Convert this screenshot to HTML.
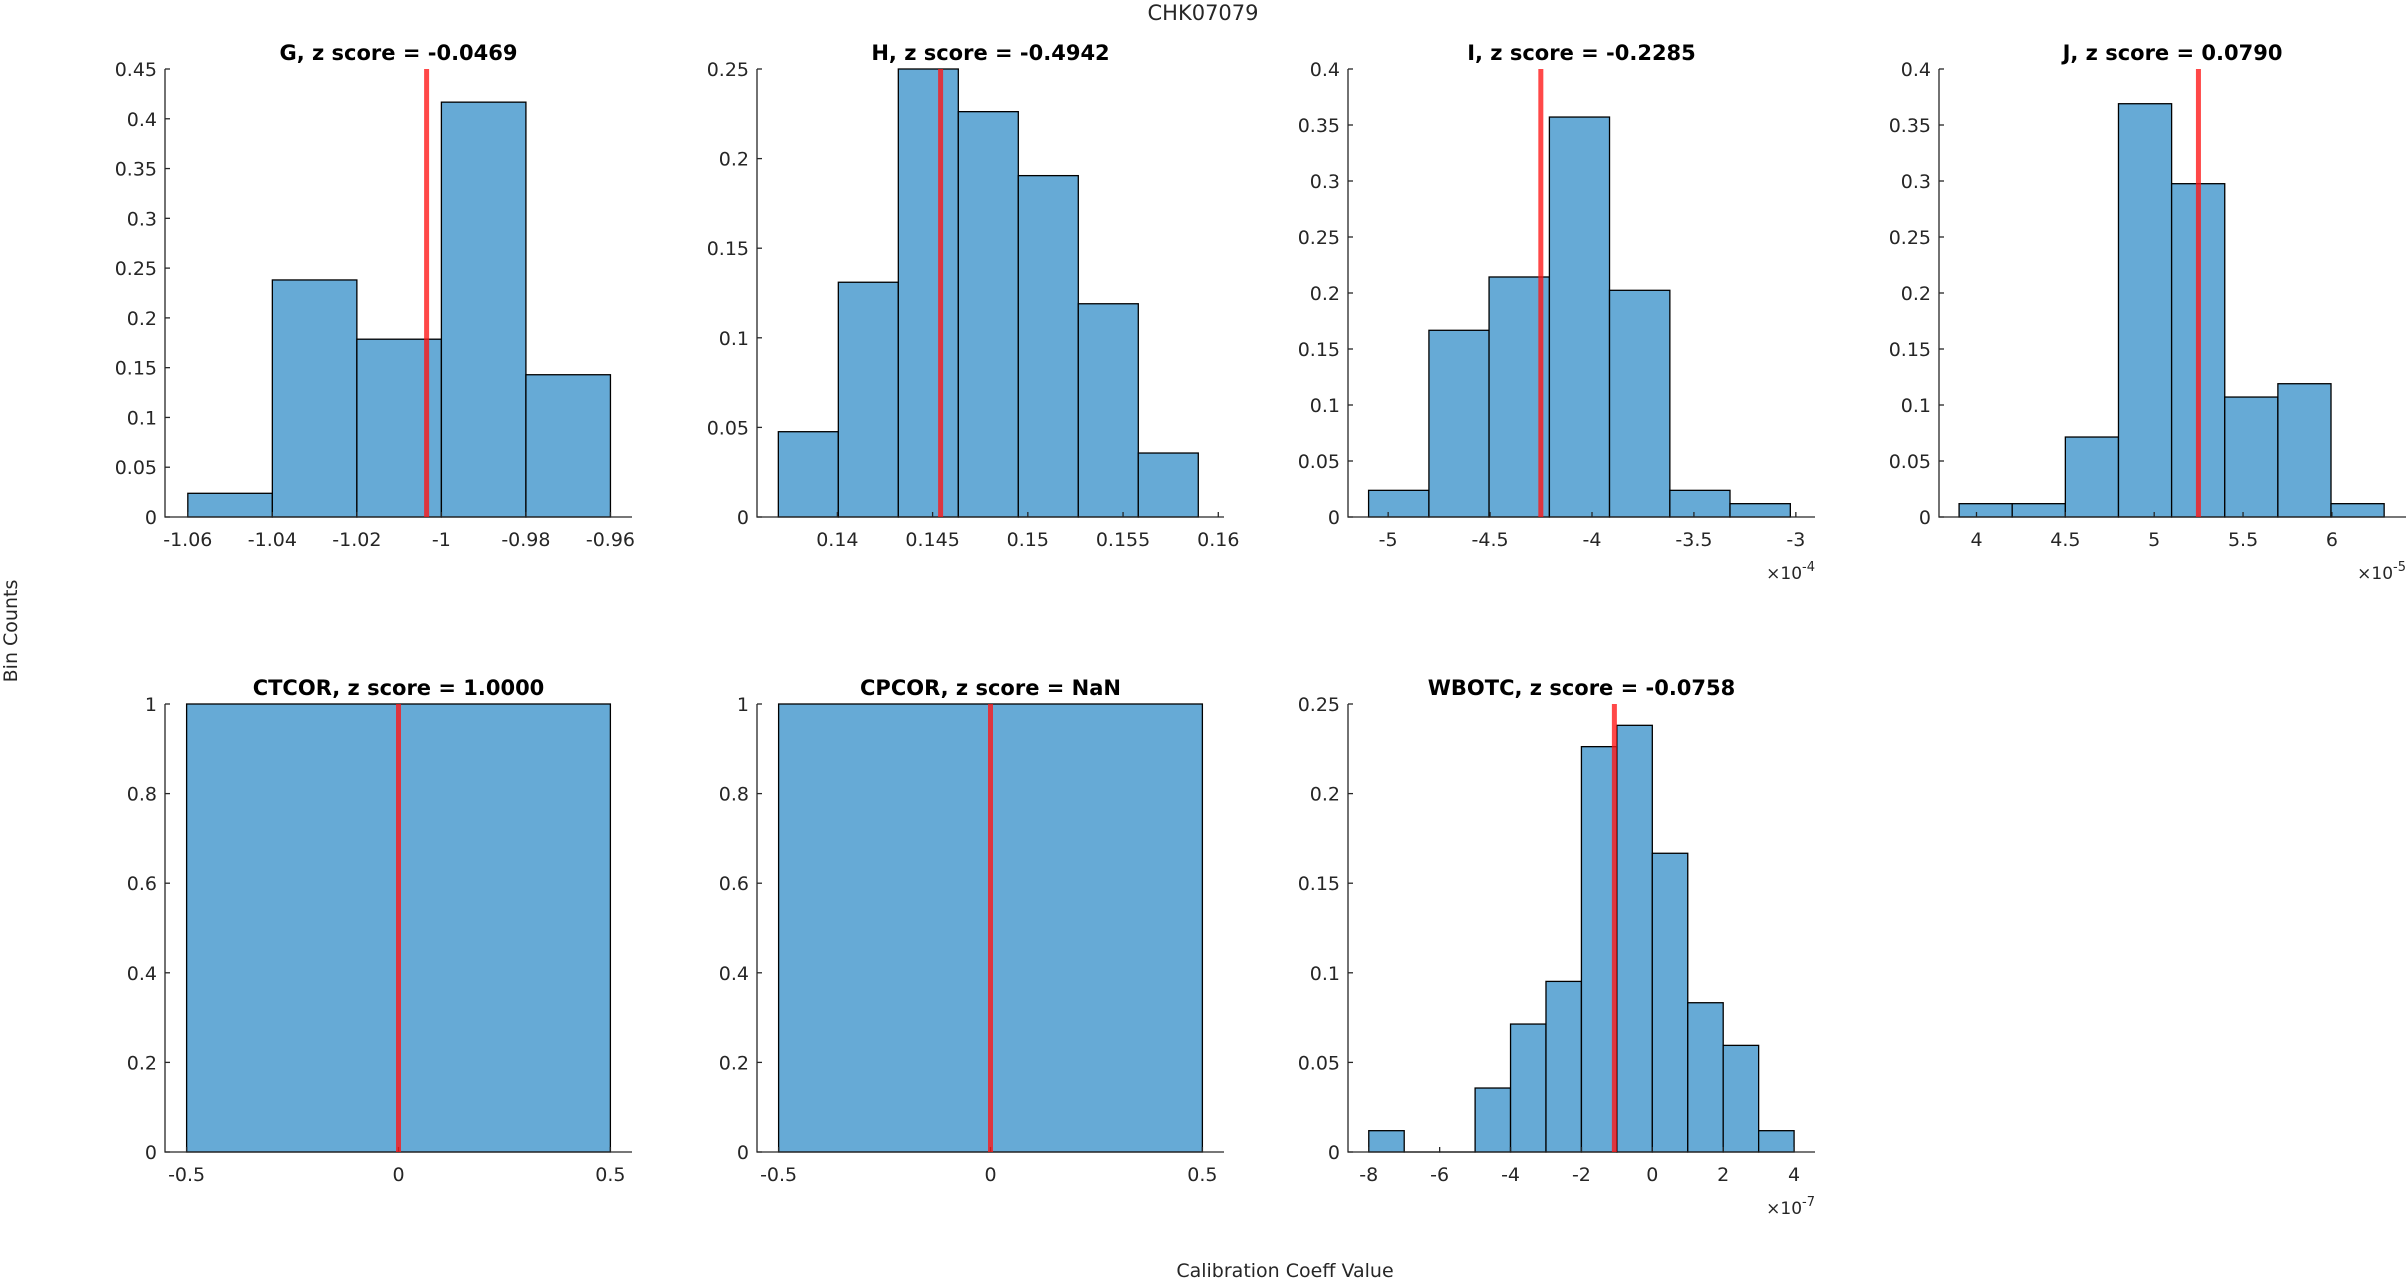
<!DOCTYPE html>
<html><head><meta charset="utf-8"><style>
html,body{margin:0;padding:0;background:#fff;}
svg{display:block;font-family:"DejaVu Sans","Liberation Sans",sans-serif;}
</style></head><body>
<svg id="fig" width="2407" height="1281" viewBox="0 0 2407 1281" xmlns="http://www.w3.org/2000/svg">
<rect width="2407" height="1281" fill="#fff"/>
<text x="1203" y="20" font-size="21" text-anchor="middle" fill="#262626">CHK07079</text>
<text transform="translate(17,631) rotate(-90)" font-size="19" text-anchor="middle" fill="#262626">Bin Counts</text>
<text x="1285" y="1277" font-size="19" text-anchor="middle" fill="#262626">Calibration Coeff Value</text>
</svg>
<script>
// ---- data ----
const gEdges = [-1.06, -1.04, -1.02, -1.00, -0.98, -0.96];
const gValues = [0.0238, 0.2381, 0.1786, 0.4167, 0.1429];
const gRef = -1.0035;
const gXTicks = [-1.06, -1.04, -1.02, -1, -0.98, -0.96];
const gXLabels = ["-1.06", "-1.04", "-1.02", "-1", "-0.98", "-0.96"];
const gYTicks = [0, 0.05, 0.1, 0.15, 0.2, 0.25, 0.3, 0.35, 0.4, 0.45];
const gYLabels = ["0", "0.05", "0.1", "0.15", "0.2", "0.25", "0.3", "0.35", "0.4", "0.45"];

const hEdges = [0.1369, 0.14005, 0.1432, 0.14635, 0.1495, 0.15265, 0.1558, 0.15895];
const hValues = [0.0476, 0.1310, 0.2500, 0.2262, 0.1905, 0.1190, 0.0357];
const hRef = 0.14542;
const hXTicks = [0.14, 0.145, 0.15, 0.155, 0.16];
const hXLabels = ["0.14", "0.145", "0.15", "0.155", "0.16"];
const hYTicks = [0, 0.05, 0.1, 0.15, 0.2, 0.25];
const hYLabels = ["0", "0.05", "0.1", "0.15", "0.2", "0.25"];

const iEdges = [-5.096, -4.800, -4.505, -4.209, -3.914, -3.618, -3.323, -3.027];
const iValues = [0.0238, 0.1667, 0.2143, 0.3571, 0.2024, 0.0238, 0.0119];
const iRef = -4.251;
const iXTicks = [-5, -4.5, -4, -3.5, -3];
const iXLabels = ["-5", "-4.5", "-4", "-3.5", "-3"];
const iYTicks = [0, 0.05, 0.1, 0.15, 0.2, 0.25, 0.3, 0.35, 0.4];
const iYLabels = ["0", "0.05", "0.1", "0.15", "0.2", "0.25", "0.3", "0.35", "0.4"];

const jEdges = [3.902, 4.201, 4.500, 4.799, 5.098, 5.397, 5.696, 5.995, 6.294];
const jValues = [0.0119, 0.0119, 0.0714, 0.3690, 0.2976, 0.1071, 0.1190, 0.0119];
const jRef = 5.249;
const jXTicks = [4, 4.5, 5, 5.5, 6];
const jXLabels = ["4", "4.5", "5", "5.5", "6"];
const jYTicks = iYTicks;
const jYLabels = iYLabels;

const ctEdges = [-0.5, 0.5];
const ctValues = [1];
const ctRef = 0;
const cpEdges = [-0.5, 0.5];
const cpValues = [1];
const cpRef = 0;
const cXTicks = [-0.5, 0, 0.5];
const cXLabels = ["-0.5", "0", "0.5"];
const cYTicks = [0, 0.2, 0.4, 0.6, 0.8, 1];
const cYLabels = ["0", "0.2", "0.4", "0.6", "0.8", "1"];

const wEdges = [-8, -7, -6, -5, -4, -3, -2, -1, 0, 1, 2, 3, 4];
const wValues = [0.0119, 0, 0, 0.0357, 0.0714, 0.0952, 0.2262, 0.2381, 0.1667, 0.0833, 0.0595, 0.0119];
const wRef = -1.07;
const wXTicks = [-8, -6, -4, -2, 0, 2, 4];
const wXLabels = ["-8", "-6", "-4", "-2", "0", "2", "4"];
const wYTicks = [0, 0.05, 0.1, 0.15, 0.2, 0.25];
const wYLabels = ["0", "0.05", "0.1", "0.15", "0.2", "0.25"];

const NS = "http://www.w3.org/2000/svg";
const svg = document.getElementById("fig");
function mk(tag, attrs, parent) {
  const e = document.createElementNS(NS, tag);
  for (const k in attrs) e.setAttribute(k, attrs[k]);
  (parent || svg).appendChild(e);
  return e;
}

function panel(o) {
  const g = mk("g", {});
  
  
  const L = o.left, T = o.top, W = 467, H = 448, B = T + H;
  const sx = v => L + (v - o.xmin) / (o.xmax - o.xmin) * W;
  const sy = v => B - (v - o.ymin) / (o.ymax - o.ymin) * H;
  for (let k = 0; k < o.values.length; k++) {
    const x0 = sx(o.edges[k]), x1 = sx(o.edges[k + 1]), y = sy(o.values[k]);
    const r = mk("rect", {x: x0, y: y, width: x1 - x0, height: Math.max(B - y, 0.001), fill: "#66aad6", stroke: "#000", "stroke-width": 1.3}, g);
    
    
  }
  const ax = mk("path", {d: `M${L},${T}V${B}H${L + W}`, fill: "none", stroke: "#262626", "stroke-width": 1.3}, g);
  
  
  o.yticks.forEach((v, k) => {
    const y = sy(v);
    mk("line", {x1: L, x2: L + 5, y1: y, y2: y, stroke: "#262626", "stroke-width": 1.3}, g);
    const t = mk("text", {x: L - 8, y: y + 7, "font-size": 19, "text-anchor": "end", fill: "#262626"}, g);
    t.textContent = o.ylabels[k];
    
    
  });
  o.xticks.forEach((v, k) => {
    const x = sx(v);
    mk("line", {x1: x, x2: x, y1: B, y2: B - 5, stroke: "#262626", "stroke-width": 1.3}, g);
    const t = mk("text", {x: x, y: B + 29, "font-size": 19, "text-anchor": "middle", fill: "#262626"}, g);
    t.textContent = o.xlabels[k];
    
    
  });
  const rl = mk("line", {x1: sx(o.ref), x2: sx(o.ref), y1: T, y2: B, stroke: "rgba(255,20,20,0.78)", "stroke-width": 5}, g);
  
  
  const tt = mk("text", {x: L + W / 2, y: T - 9, "font-size": 21, "font-weight": "bold", "text-anchor": "middle", fill: "#000"}, g);
  tt.textContent = o.title;
  
  
  if (o.exp) {
    const ex = mk("text", {x: L + W, y: B + 62, "font-size": 17, "text-anchor": "end", fill: "#262626"}, g);
    ex.textContent = "\u00d710";
    const sp = mk("tspan", {dy: -8, "font-size": 13}, ex);
    sp.textContent = o.exp;
    
    
  }
}

const lefts = [165, 757, 1348, 1939];
const T1 = 69, T2 = 704;
panel({name: "panel-g", title: "G, z score = -0.0469", left: lefts[0], top: T1, xmin: -1.0654, xmax: -0.9549, ymin: 0, ymax: 0.45, edges: gEdges, values: gValues, ref: gRef, xticks: gXTicks, xlabels: gXLabels, yticks: gYTicks, ylabels: gYLabels});
panel({name: "panel-h", title: "H, z score = -0.4942", left: lefts[1], top: T1, xmin: 0.13578, xmax: 0.1603, ymin: 0, ymax: 0.25, edges: hEdges, values: hValues, ref: hRef, xticks: hXTicks, xlabels: hXLabels, yticks: hYTicks, ylabels: hYLabels});
panel({name: "panel-i", title: "I, z score = -0.2285", left: lefts[2], top: T1, xmin: -5.197, xmax: -2.906, ymin: 0, ymax: 0.4, edges: iEdges, values: iValues, ref: iRef, xticks: iXTicks, xlabels: iXLabels, yticks: iYTicks, ylabels: iYLabels, exp: "-4"});
panel({name: "panel-j", title: "J, z score = 0.0790", left: lefts[3], top: T1, xmin: 3.789, xmax: 6.417, ymin: 0, ymax: 0.4, edges: jEdges, values: jValues, ref: jRef, xticks: jXTicks, xlabels: jXLabels, yticks: jYTicks, ylabels: jYLabels, exp: "-5"});
panel({name: "panel-ctcor", title: "CTCOR, z score = 1.0000", left: lefts[0], top: T2, xmin: -0.551, xmax: 0.551, ymin: 0, ymax: 1, edges: ctEdges, values: ctValues, ref: ctRef, xticks: cXTicks, xlabels: cXLabels, yticks: cYTicks, ylabels: cYLabels});
panel({name: "panel-cpcor", title: "CPCOR, z score = NaN", left: lefts[1], top: T2, xmin: -0.551, xmax: 0.551, ymin: 0, ymax: 1, edges: cpEdges, values: cpValues, ref: cpRef, xticks: cXTicks, xlabels: cXLabels, yticks: cYTicks, ylabels: cYLabels});
panel({name: "panel-wbotc", title: "WBOTC, z score = -0.0758", left: lefts[2], top: T2, xmin: -8.586, xmax: 4.59, ymin: 0, ymax: 0.25, edges: wEdges, values: wValues, ref: wRef, xticks: wXTicks, xlabels: wXLabels, yticks: wYTicks, ylabels: wYLabels, exp: "-7"});
</script>
</body></html>
